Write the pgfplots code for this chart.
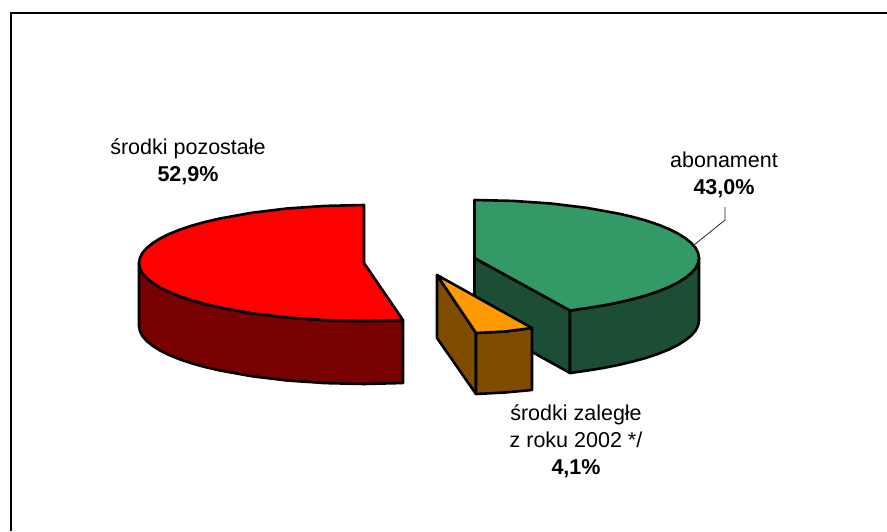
\documentclass[border=0pt]{standalone}
\usepackage{fontspec}
\setmainfont{Liberation Sans}
\usepackage{pgfplots}
\pgfplotsset{compat=1.18}
\definecolor{redtop}{HTML}{FF0000}
\definecolor{redside}{HTML}{770000}
\definecolor{greentop}{HTML}{339966}
\definecolor{greenside}{HTML}{1C4D35}
\definecolor{orangetop}{HTML}{FF9900}
\definecolor{orangeside}{HTML}{804D00}
\tikzset{lbl/.style={font=\fontsize{21.5}{26}\selectfont, text=black, inner sep=0pt, anchor=base}}
\pgfplotsset{slice/.style={draw=black, line width=2.6pt, line join=round}}
\begin{document}
\begin{tikzpicture}
\begin{axis}[
    hide axis,
    scale only axis,
    width=887pt, height=531pt,
    xmin=0, xmax=887,
    ymin=0, ymax=531,
    y dir=reverse,
    no markers,
]
% keeps the whole plot area in the page, hide axis does not
\addplot[draw=none] coordinates {(0,0) (887,531)};
% outer frame, its right and bottom sides lie outside the picture
\addplot[draw=black, line width=2pt] coordinates {(10.5,531) (10.5,12.5) (887,12.5)};

% red slice: side, then top
\addplot[slice, fill=redside] coordinates {
    (139,263) (139.9,268.1) (142.4,273.1) (146.7,278) (152.6,282.8) (160.1,287.5) (169.1,292)
    (179.7,296.3) (191.6,300.3) (204.9,304) (219.4,307.4) (251.5,313.2) (287,317.5) (324.9,320.1)
    (364,321) (403,320.1) (403,383) (364,384) (324.9,383.1) (287,380.5) (251.5,376.2) (219.4,370.4)
    (204.9,367) (191.6,363.3) (179.7,359.3) (169.1,355) (160.1,350.5) (152.6,345.8) (146.7,341)
    (142.4,336.1) (139.9,331.1) (139,326)
} -- cycle;
\addplot[slice, fill=redtop] coordinates {
    (364,205) (324.9,205.9) (287,208.5) (251.5,212.8) (219.4,218.6) (204.9,222) (191.6,225.7)
    (179.7,229.7) (169.1,234) (160.1,238.5) (152.6,243.2) (146.7,248) (142.4,252.9) (139.9,257.9)
    (139,263) (139.9,268.1) (142.4,273.1) (146.7,278) (152.6,282.8) (160.1,287.5) (169.1,292)
    (179.7,296.3) (191.6,300.3) (204.9,304) (219.4,307.4) (251.5,313.2) (287,317.5) (324.9,320.1)
    (364,321) (403,320.1) (364,263)
} -- cycle;

% green slice: cut face, rim, top
\addplot[slice, fill=greenside] coordinates {(474.5,258) (570,310.5) (570,373) (474.5,320)} -- cycle;
\addplot[slice, fill=greenside] coordinates {
    (699,258) (698.1,263.1) (695.6,268.1) (691.3,273) (685.4,277.8) (677.9,282.5) (668.9,287)
    (658.3,291.3) (646.4,295.3) (633.1,299) (618.6,302.4) (603.1,305.5) (586.5,308.2) (570,310.5)
    (570,373) (586.5,370.7) (603.1,368) (618.6,364.9) (633.1,361.5) (646.4,357.8) (658.3,353.8)
    (668.9,349.5) (677.9,345) (685.4,340.3) (691.3,335.5) (695.6,330.6) (698.1,325.6) (699,320.5)
} -- cycle;
\addplot[slice, fill=greentop] coordinates {
    (474.5,200) (513.1,200.9) (551,203.5) (586.5,207.8) (618.6,213.6) (633.1,217) (646.4,220.7)
    (658.3,224.7) (668.9,229) (677.9,233.5) (685.4,238.2) (691.3,243) (695.6,247.9) (698.1,252.9)
    (699,258) (698.1,263.1) (695.6,268.1) (691.3,273) (685.4,277.8) (677.9,282.5) (668.9,287)
    (658.3,291.3) (646.4,295.3) (633.1,299) (618.6,302.4) (603.1,305.5) (586.5,308.2) (570,310.5)
    (474.5,258)
} -- cycle;

% orange slice
\addplot[slice, fill=orangeside] coordinates {(437,275) (476,333) (476,394) (437,338)} -- cycle;
\addplot[slice, fill=orangeside] coordinates {(476,333) (505,331.5) (532,328) (532,390) (505,392.5) (476,394)} -- cycle;
\addplot[slice, fill=orangetop] coordinates {(437,275) (532,328) (505,331.5) (476,333)} -- cycle;

% leader line of the abonament label
\addplot[draw=black!85, line width=0.8pt] coordinates {(694,245) (725,220) (725,207)};

\node[lbl] at (axis cs:188,154) {środki pozostałe};
\node[lbl] at (axis cs:188,181.5) {\bfseries 52,9\%};
\node[lbl] at (axis cs:724,167) {abonament};
\node[lbl] at (axis cs:724,194) {\bfseries 43,0\%};
\node[lbl] at (axis cs:576,420) {środki zaległe};
\node[lbl] at (axis cs:576,447) {z roku 2002 */};
\node[lbl] at (axis cs:576,474) {\bfseries 4,1\%};
\end{axis}
\end{tikzpicture}
\end{document}
